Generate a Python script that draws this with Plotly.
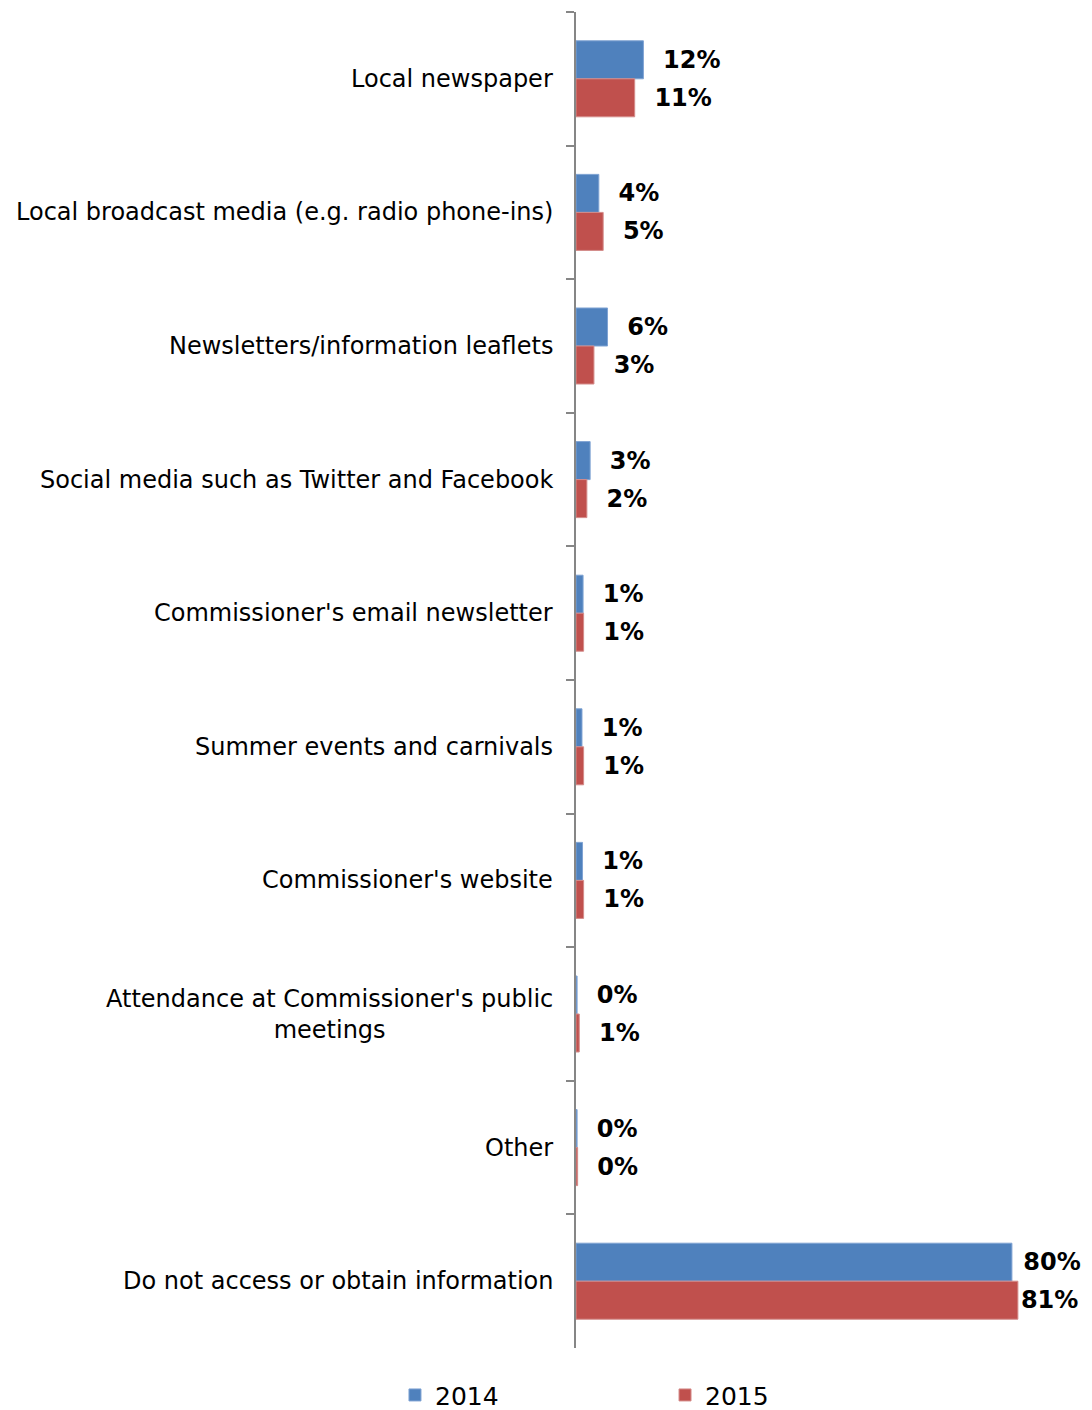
import plotly.graph_objects as go

# Survey responses: where people access or obtain information about the Commissioner
categories = [
    "Local newspaper",
    "Local broadcast media (e.g. radio phone-ins)",
    "Newsletters/information leaflets",
    "Social media such as Twitter and Facebook",
    "Commissioner's email newsletter",
    "Summer events and carnivals",
    "Commissioner's website",
    "Attendance at Commissioner's public<br>meetings",
    "Other",
    "Do not access or obtain information",
]
values_2014 = [12.4, 4.2, 5.8, 2.6, 1.3, 1.1, 1.2, 0.2, 0.2, 80.2]
values_2015 = [10.8, 5.0, 3.3, 2.0, 1.4, 1.4, 1.4, 0.6, 0.3, 81.3]
series_names = ["2014", "2015"]

BLUE = "#4F81BD"
RED = "#C0504D"
AXIS_GREY = "#868686"
FONT = "DejaVu Sans"
NBSP = "\u00a0"


def labels(values, tight):
    # percentage labels just past the bar end; the widest bars get less padding
    out = []
    for i, v in enumerate(values):
        pad = tight.get(i, 2)
        out.append(NBSP * pad + f"{v:.0f}%")
    return out


label_font = dict(family=FONT, size=24, color="black", weight="bold")

fig = go.Figure()
fig.add_trace(go.Bar(
    name=series_names[0], y=categories, x=values_2014, orientation="h",
    marker=dict(color=BLUE, line=dict(color="#7FA3D3", width=1)),
    text=labels(values_2014, {9: 1}), textposition="outside",
    textfont=label_font, cliponaxis=False, legend="legend",
))
fig.add_trace(go.Bar(
    name=series_names[1], y=categories, x=values_2015, orientation="h",
    marker=dict(color=RED, line=dict(color="#D48C8A", width=1)),
    text=labels(values_2015, {9: 0}), textposition="outside",
    textfont=label_font, cliponaxis=False, legend="legend2",
))

# category names as centred, right-anchored annotations beside the axis
for cat in categories:
    fig.add_annotation(
        x=0, xref="paper", y=cat, yref="y", xanchor="right", yanchor="middle",
        xshift=-21, text=cat, showarrow=False, align="center",
        font=dict(family=FONT, size=24, color="black"),
    )

legend_common = dict(
    orientation="h", xref="container", yref="container",
    xanchor="left", y=0.0105, yanchor="middle",
    font=dict(family=FONT, size=25, color="black"),
)

fig.update_layout(
    width=1092, height=1410,
    margin=dict(l=576, r=54, t=12, b=62),
    paper_bgcolor="white", plot_bgcolor="white",
    barmode="group", bargap=0.431, bargroupgap=0,
    font=dict(family=FONT, size=24, color="black"),
    showlegend=True,
    legend=dict(x=0.3617, **legend_common),
    legend2=dict(x=0.609, **legend_common),
    xaxis=dict(range=[0, 85], visible=False, fixedrange=True),
    yaxis=dict(
        type="category", autorange="reversed",
        showline=True, linecolor=AXIS_GREY, linewidth=2,
        ticks="outside", ticklen=8, tickcolor=AXIS_GREY, tickwidth=2,
        tickson="boundaries", showticklabels=False, showgrid=False,
        zeroline=False,
    ),
)

fig.write_html("out.html")
